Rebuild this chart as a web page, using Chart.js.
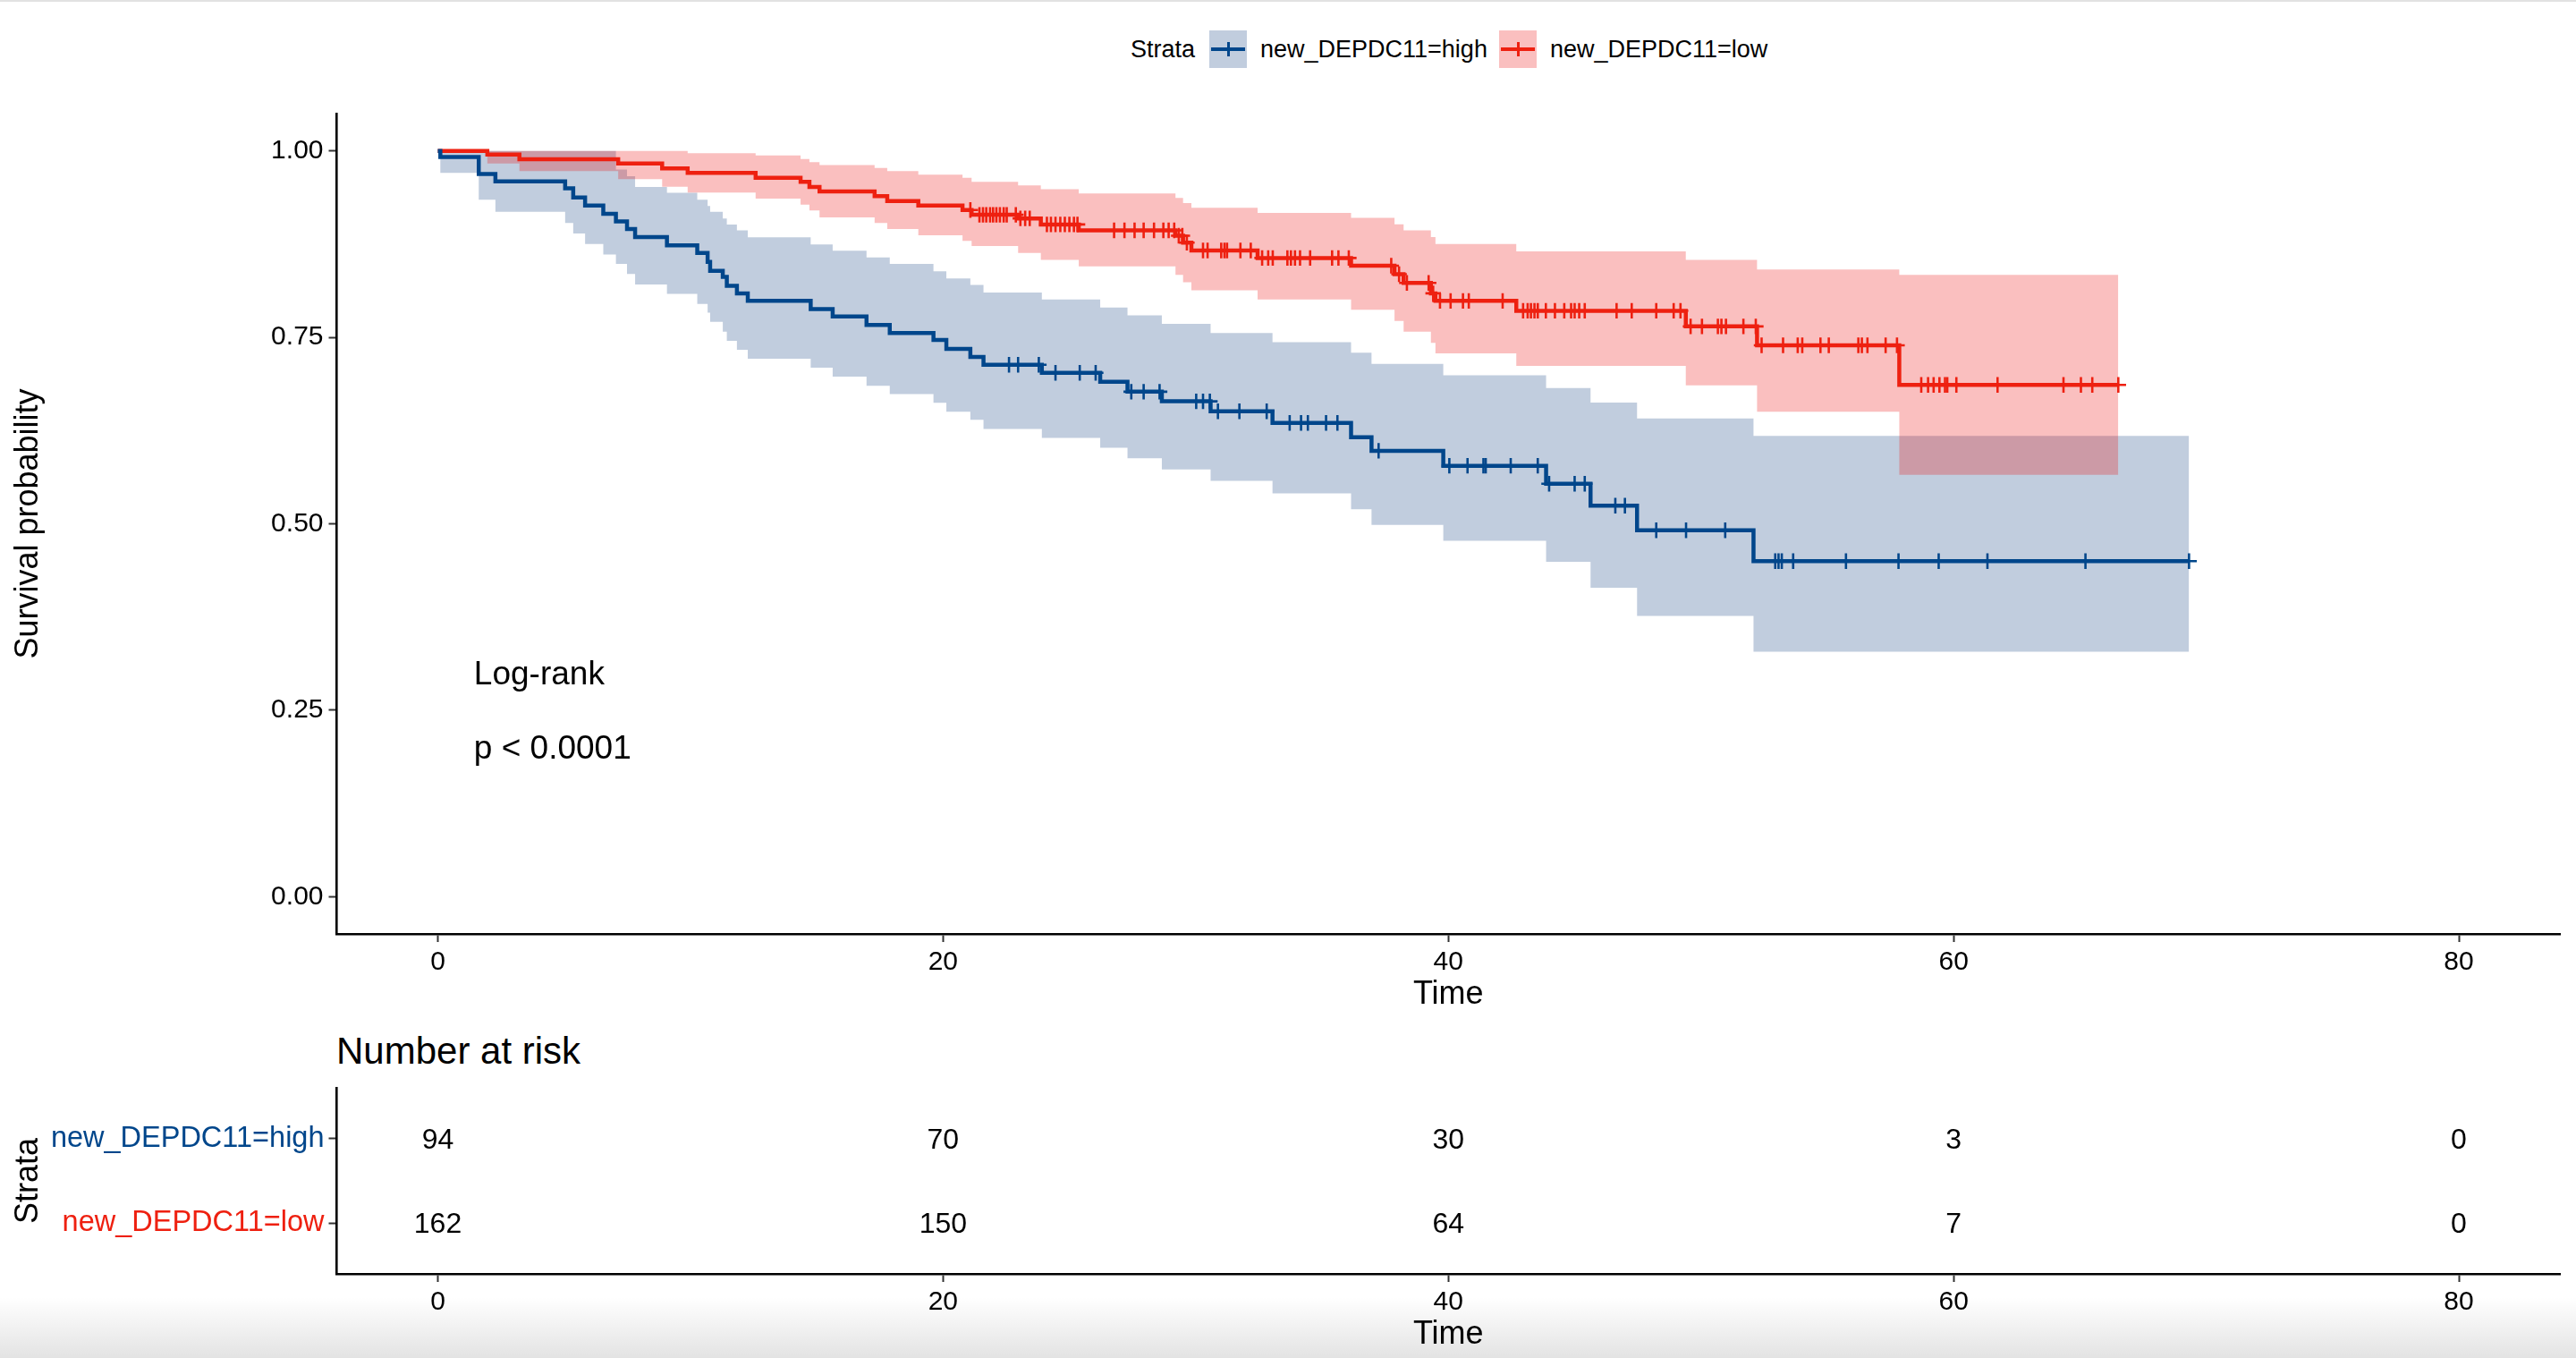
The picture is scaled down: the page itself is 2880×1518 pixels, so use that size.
<!DOCTYPE html>
<html>
<head>
<meta charset="utf-8">
<title>Survival by new_DEPDC11</title>
<script src="https://cdn.jsdelivr.net/npm/chart.js@4.4.1/dist/chart.umd.min.js"></script>
<style>
  html, body { margin: 0; padding: 0; background: #fff; }
  body { width: 2880px; height: 1518px; position: relative; overflow: hidden;
         font-family: 'Liberation Sans', Arial, Helvetica, sans-serif; color: #000; }
  canvas { position: absolute; left: 0; }
  #km { top: 0; }
  #risk { top: 1190px; }
  .topline { position: absolute; left: 0; top: 0; width: 2880px; height: 2px; background: #e2e2e2; }
  .shade { position: absolute; left: 0; top: 1450px; width: 2880px; height: 68px;
           background: linear-gradient(to bottom, rgba(0,0,0,0), rgba(0,0,0,0.11)); }
  .lg { position: absolute; top: 34px; height: 42px; line-height: 42px; font-size: 27px; white-space: nowrap; }
  .key { position: absolute; top: 34px; width: 42px; height: 42px; }
  .key .h { position: absolute; left: 2px; right: 2px; top: 19px; height: 4px; }
  .key .v { position: absolute; left: 19.5px; width: 3px; top: 13px; height: 16px; }
  .risk-title { position: absolute; left: 376px; top: 1150px; height: 50px; line-height: 50px; font-size: 42px; }
</style>
</head>
<body>
<div class="topline"></div>
<div class="shade"></div>

<div class="lg" style="left:1264px">Strata</div>
<div class="key" style="left:1352px;background:rgba(0,50,120,0.245)"><div class="h" style="background:#00468B"></div><div class="v" style="background:#00468B"></div></div>
<div class="lg" style="left:1409px">new_DEPDC11=high</div>
<div class="key" style="left:1676px;background:rgba(237,0,0,0.25)"><div class="h" style="background:#EE2010"></div><div class="v" style="background:#EE2010"></div></div>
<div class="lg" style="left:1733px">new_DEPDC11=low</div>

<canvas id="km" width="2880" height="1140"></canvas>
<div class="risk-title">Number at risk</div>
<canvas id="risk" width="2880" height="328"></canvas>

<script>
// ---- data ----
const strataNames = ['new_DEPDC11=high', 'new_DEPDC11=low'];
const strataColors = ['#00468B', '#EE2010'];
const bandColors = ['rgba(0,50,120,0.245)', 'rgba(237,0,0,0.25)'];
const xTicks = [0, 20, 40, 60, 80];
const yTicks = [0, 0.25, 0.5, 0.75, 1];

// high group: step times (months), survival after each step, 95% CI
const highTime  = [0, 0.1, 1.62, 2.28, 5.04, 5.36, 5.83, 6.55, 7.05, 7.49, 7.81, 9.07, 10.27, 10.68, 10.78,
                   11.28, 11.44, 11.84, 12.27, 14.76, 15.63, 16.97, 17.89, 19.62, 20.13, 21.08, 21.6, 23.91,
                   26.22, 27.3, 28.66, 30.59, 33.04, 36.15, 36.96, 39.8, 43.87, 45.63, 47.47, 52.08, 69.32];
const highSurv  = [1, 0.9919, 0.969, 0.959, 0.9497, 0.9376, 0.9268, 0.9155, 0.9055, 0.8954, 0.8846, 0.8733,
                   0.8632, 0.8512, 0.8391, 0.8311, 0.819, 0.809, 0.7989, 0.788, 0.778, 0.7667, 0.7559, 0.7466,
                   0.7346, 0.7237, 0.7133, 0.7024, 0.6904, 0.6771, 0.6642, 0.6509, 0.6353, 0.616, 0.5979,
                   0.5778, 0.5536, 0.5243, 0.4913, 0.4499, 0.4499];
const highUpper = [1, 1, 1, 1, 1, 1, 1, 1, 0.975, 0.966, 0.9517, 0.9437, 0.9344, 0.926, 0.9183, 0.9095,
                   0.9014, 0.8934, 0.8842, 0.8745, 0.8661, 0.8572, 0.8484, 0.8387, 0.8291, 0.8202, 0.8102,
                   0.8009, 0.7901, 0.7796, 0.768, 0.7559, 0.7434, 0.7293, 0.7145, 0.6992, 0.6819, 0.6626,
                   0.6413, 0.618, 0.618];
const highLower = [1, 0.9706, 0.9344, 0.9183, 0.9035, 0.8894, 0.8753, 0.8612, 0.8484, 0.8351, 0.821, 0.8082,
                   0.7949, 0.783, 0.7708, 0.7575, 0.7454, 0.7334, 0.7213, 0.7093, 0.6972, 0.6851, 0.6739,
                   0.6622, 0.6501, 0.6393, 0.6272, 0.6152, 0.6019, 0.5878, 0.573, 0.5577, 0.5408, 0.5195,
                   0.4986, 0.4772, 0.4491, 0.4141, 0.3763, 0.3285, 0.3285];
const highCensor = [22.61, 22.97, 23.79, 24.45, 25.41, 26.04, 27.45, 27.94, 28.57, 30.02, 30.29, 30.56, 30.88,
                    31.73, 32.81, 33.72, 34.17, 34.44, 35.16, 35.61, 37.24, 40.04, 40.76, 41.39, 41.48, 42.47,
                    43.54, 43.99, 45.0, 45.4, 46.61, 46.99, 48.23, 49.41, 50.96, 52.94, 53.07, 53.2, 53.65,
                    55.74, 57.82, 59.41, 61.34, 65.22, 69.32];

// low group
const lowTime  = [0, 1.96, 3.23, 7.14, 8.88, 9.89, 12.58, 14.36, 14.71, 15.11, 17.29, 17.79, 19.02, 20.77,
                  21.13, 22.97, 23.87, 25.37, 29.2, 29.5, 29.83, 32.45, 36.15, 37.87, 38.23, 39.31, 39.49,
                  42.69, 49.4, 52.22, 57.85, 66.52];
const lowSurv  = [1, 0.9951, 0.9887, 0.9831, 0.9766, 0.9706, 0.9638, 0.9585, 0.9517, 0.9457, 0.9392, 0.9328,
                  0.9268, 0.9207, 0.9143, 0.9095, 0.9014, 0.8934, 0.8862, 0.877, 0.8665, 0.8564, 0.846,
                  0.8347, 0.823, 0.809, 0.7989, 0.7856, 0.7647, 0.7394, 0.6863, 0.6863];
const lowUpper = [1, 1, 1, 1, 1, 0.997, 0.994, 0.989, 0.985, 0.981, 0.977, 0.973, 0.968, 0.964, 0.9585,
                  0.9537, 0.9485, 0.9429, 0.9368, 0.93, 0.9236, 0.9167, 0.9103, 0.9015, 0.8934, 0.8846,
                  0.8753, 0.8653, 0.854, 0.8411, 0.8339, 0.8339];
const lowLower = [1, 0.983, 0.973, 0.962, 0.952, 0.944, 0.936, 0.928, 0.92, 0.911, 0.9035, 0.8954, 0.887,
                  0.8793, 0.8725, 0.8632, 0.854, 0.8452, 0.8339, 0.824, 0.813, 0.8009, 0.7869, 0.772, 0.7575,
                  0.7426, 0.7286, 0.7117, 0.6855, 0.6501, 0.5657, 0.5657];
const lowCensor = [21.08, 21.44, 21.58, 21.71, 21.86, 21.98, 22.11, 22.25, 22.4, 22.52, 22.88, 23.06, 23.25,
                   23.43, 24.11, 24.27, 24.45, 24.64, 24.82, 25.0, 25.18, 25.32, 26.77, 27.18, 27.58, 27.94,
                   28.35, 28.72, 28.93, 29.15, 29.33, 29.47, 29.65, 30.29, 30.47, 31.01, 31.14, 31.24, 31.77,
                   32.18, 32.63, 32.87, 33.05, 33.63, 33.77, 33.93, 34.13, 34.53, 35.4, 35.65, 36.06, 37.74,
                   38.05, 38.36, 39.22, 39.4, 39.67, 40.09, 40.58, 40.81, 42.15, 42.96, 43.14, 43.27, 43.41,
                   43.54, 43.86, 44.22, 44.59, 44.86, 45.0, 45.18, 45.4, 46.66, 47.26, 48.23, 48.92, 49.19,
                   49.59, 50.04, 50.67, 50.81, 50.99, 51.68, 52.17, 52.4, 53.25, 53.83, 54.01, 54.73, 55.06,
                   56.23, 56.37, 56.59, 57.31, 57.76, 58.72, 58.99, 59.21, 59.44, 59.66, 59.75, 60.11, 61.74,
                   64.35, 65.04, 65.49, 66.52];

// number at risk table
const riskTimes = [0, 20, 40, 60, 80];
const highRisk = [94, 70, 30, 3, 0];
const lowRisk = [162, 150, 64, 7, 0];

const pvalLines = ['Log-rank', 'p < 0.0001'];

// ---- helpers ----
const FONT = "'Liberation Sans', Arial, Helvetica, sans-serif";
Chart.defaults.font.family = FONT;
Chart.defaults.color = '#000';

const toPoints = (xs, ys) => xs.map((x, i) => ({ x, y: ys[i] }));
const stepAt = (xs, ys, t) => {
    let v = ys[0];
    for (let i = 0; i < xs.length; i++) if (xs[i] <= t) v = ys[i];
    return v;
};

const band = (xs, ys, color, fill) => ({
    data: toPoints(xs, ys), stepped: 'before', borderWidth: 0, pointRadius: 0,
    fill: fill, backgroundColor: color, order: 5
});
const curve = (xs, ys, color) => ({
    data: toPoints(xs, ys), stepped: 'before', borderColor: color, borderWidth: 4.5,
    pointRadius: 0, fill: false, order: 2
});
const censor = (ts, xs, ys, color) => ({
    data: ts.map(t => ({ x: t, y: stepAt(xs, ys, t) })), showLine: false, pointStyle: 'cross',
    pointRadius: 8.7, pointBorderWidth: 2.6, borderColor: color, backgroundColor: color, order: 1
});

const xAxis = () => ({
    type: 'linear', min: -4, max: 84,
    afterBuildTicks: s => { s.ticks = xTicks.map(v => ({ value: v })); },
    afterFit: s => { s.height = 90; },
    grid: { display: true, drawOnChartArea: false, drawTicks: true, tickLength: 9, tickWidth: 2, tickColor: '#333' },
    border: { display: true, color: '#000', width: 2.6 },
    ticks: { font: { size: 30 }, color: '#000', padding: 5, maxRotation: 0, callback: v => String(v) },
    title: { display: true, text: 'Time', font: { size: 36 }, color: '#000', padding: 0 }
});

// p-value annotation, placed in data coordinates
const pvalLabel = {
    id: 'pvalLabel',
    afterDatasetsDraw(chart) {
        const { ctx, scales: { x, y } } = chart;
        ctx.save();
        ctx.font = '37px ' + FONT;
        ctx.fillStyle = '#000';
        ctx.textBaseline = 'middle';
        ctx.fillText(pvalLines[0], x.getPixelForValue(1.43), y.getPixelForValue(0.297));
        ctx.fillText(pvalLines[1], x.getPixelForValue(1.43), y.getPixelForValue(0.197));
        ctx.restore();
    }
};

new Chart(document.getElementById('km'), {
    type: 'line',
    data: {
        datasets: [
            band(lowTime, lowUpper, bandColors[1], '+1'),
            band(lowTime, lowLower, 'rgba(0,0,0,0)', false),
            band(highTime, highUpper, bandColors[0], '+1'),
            band(highTime, highLower, 'rgba(0,0,0,0)', false),
            curve(highTime, highSurv, strataColors[0]),
            curve(lowTime, lowSurv, strataColors[1]),
            censor(highCensor, highTime, highSurv, strataColors[0]),
            censor(lowCensor, lowTime, lowSurv, strataColors[1])
        ]
    },
    options: {
        responsive: false,
        animation: false,
        events: [],
        layout: { padding: { left: 0, right: 18, top: 127, bottom: 6 } },
        plugins: {
            legend: { display: false },
            tooltip: { enabled: false },
            filler: { drawTime: 'beforeDatasetsDraw' }
        },
        scales: {
            x: xAxis(),
            y: {
                type: 'linear', min: -0.05, max: 1.05,
                afterBuildTicks: s => { s.ticks = yTicks.map(v => ({ value: v })); },
                afterFit: s => { s.width = 376.5; },
                grid: { display: true, drawOnChartArea: false, drawTicks: true, tickLength: 9, tickWidth: 2, tickColor: '#333' },
                border: { display: true, color: '#000', width: 2.6 },
                ticks: { font: { size: 30 }, color: '#000', padding: 6, callback: v => v.toFixed(2) },
                title: { display: true, text: 'Survival probability', font: { size: 36 }, color: '#000', padding: { top: 10.5, bottom: 0 } }
            }
        }
    },
    plugins: [pvalLabel]
});

// ---- number at risk table ----
const riskRows = [2, 1];   // high on top, low below
const riskCounts = [highRisk, lowRisk];

const riskLabels = {
    id: 'riskLabels',
    afterDatasetsDraw(chart) {
        const { ctx } = chart;
        ctx.save();
        ctx.font = '32px ' + FONT;
        ctx.fillStyle = '#000';
        ctx.textAlign = 'center';
        ctx.textBaseline = 'middle';
        chart.data.datasets.forEach((ds, di) => {
            chart.getDatasetMeta(di).data.forEach((pt, i) => {
                ctx.fillText(String(riskCounts[di][i]), pt.x, pt.y + 2);
            });
        });
        ctx.restore();
    }
};

new Chart(document.getElementById('risk'), {
    type: 'scatter',
    data: {
        datasets: riskRows.map((row, di) => ({
            label: strataNames[di],
            data: riskTimes.map(t => ({ x: t, y: row })),
            pointRadius: 0
        }))
    },
    options: {
        responsive: false,
        animation: false,
        events: [],
        layout: { padding: { left: 0, right: 18, top: 26, bottom: 4 } },
        plugins: { legend: { display: false }, tooltip: { enabled: false } },
        scales: {
            x: xAxis(),
            y: {
                type: 'linear', min: 0.4, max: 2.6,
                afterBuildTicks: s => { s.ticks = riskRows.map(v => ({ value: v })); },
                afterFit: s => { s.width = 376.5; },
                grid: { display: true, drawOnChartArea: false, drawTicks: true, tickLength: 9, tickWidth: 2, tickColor: '#333' },
                border: { display: true, color: '#000', width: 2.6 },
                ticks: {
                    font: { size: 32.5 }, padding: 5,
                    color: c => strataColors[riskRows.indexOf(c.tick.value)],
                    callback: v => strataNames[riskRows.indexOf(v)]
                },
                title: { display: true, text: 'Strata', font: { size: 36 }, color: '#000', padding: { top: 10.5, bottom: 0 } }
            }
        }
    },
    plugins: [riskLabels]
});
</script>
</body>
</html>
